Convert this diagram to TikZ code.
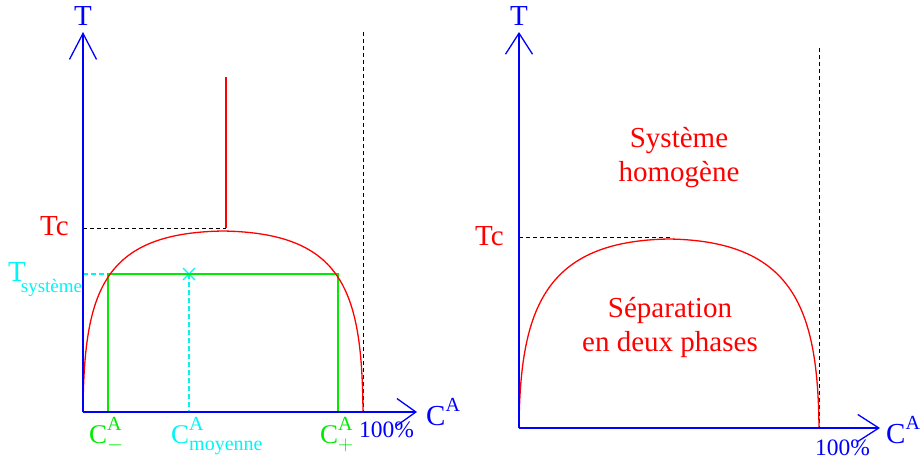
\documentclass[tikz,border=0pt]{standalone}
\usepackage{fontspec}
\setmainfont{Liberation Serif}
\usetikzlibrary{arrows.meta}
\definecolor{xred}{RGB}{255,0,0}
\definecolor{xblue}{RGB}{0,0,255}
\definecolor{xgreen}{RGB}{0,235,0}
\definecolor{xcyan}{RGB}{0,245,245}
\newcommand{\indice}{\fontsize{20}{24}\selectfont}
\newcommand{\conc}[1]{C\rlap{\raisebox{13pt}{\indice A}}\raisebox{-7pt}{\indice #1}}
\tikzset{
  axe/.style={xblue,line width=1.3pt},
  pointe/.style={-{Straight Barb[length=#1,width=27pt]}},
  courbe/.style={xred,line width=1.3pt},
  tirets/.style={black,line width=.9pt,dash pattern=on 4pt off 3pt},
  pointilles/.style={xcyan,line width=1.3pt,dash pattern=on 5pt off 3pt},
  grand/.style={font=\fontsize{29}{34}\selectfont,inner sep=0pt},
  moyen/.style={font=\fontsize{27}{32}\selectfont,inner sep=0pt},
  petit/.style={font=\fontsize{23.5}{28}\selectfont,inner sep=0pt},
}
\begin{document}
\begin{tikzpicture}[x=1pt,y=-1pt]
\useasboundingbox (0,0) rectangle (922,460);
% diagramme de gauche
\coordinate (O1) at (83,412); \coordinate (T1) at (83,32); \coordinate (X1) at (417,412);
\coordinate (M) at (189,274);
\draw[tirets] (363,32) -- (363,412);
\draw[tirets] (83,228) -- (226,228);
\draw[courbe] (226,228) -- (226,77);
\draw[pointilles] (83,274) -- (108,274);
\draw[pointilles] (M) -- (189,412);
\draw[xcyan,line width=1.2pt] (M) ++(-6,-6) -- ++(12,12) (M) ++(-6,6) -- ++(12,-12);
\draw[xgreen,line width=1.4pt] (108,412) -- (108,274) -- (338,274) -- (338,412);
\draw[courbe] (O1) .. controls (84,292) and (102,233) .. (223,231)
  .. controls (344,233) and (362,292) .. (363,412);
\draw[axe,pointe=26pt] (O1) -- (T1);
\draw[axe,pointe=19pt] (O1) -- (X1);
\node[grand,xblue] (t1) at (83,16) {T};
\node[grand,xred,anchor=base east] (tc1) at (69,235) {Tc};
\node[grand,xcyan,anchor=base west] (ts) at (8,281) {T\kern-5pt\raisebox{-11.5pt}{\fontsize{19}{23}\selectfont système}};
\node[moyen,xgreen,anchor=base west] (cm) at (89,443) {\conc{$-$}};
\node[moyen,xcyan,anchor=base west] (cmoy) at (171,443) {\conc{moyenne}};
\node[moyen,xgreen,anchor=base west] (cp) at (320,443) {\conc{$+$}};
\node[petit,xblue,anchor=base west] (p1) at (359,437) {100\%};
\node[grand,xblue,anchor=base west] (ca1) at (426,425) {C\raisebox{14pt}{\indice A}};
% diagramme de droite
\coordinate (O2) at (519,428); \coordinate (T2) at (519,32); \coordinate (X2) at (880,428);
\draw[tirets] (819,48) -- (819,428);
\draw[tirets] (519,237) -- (673,237);
\draw[courbe] (O2) .. controls (520,309) and (544.5,241) .. (669,239)
  .. controls (793.5,241) and (818,309) .. (819,428);
\draw[axe,pointe=21pt] (O2) -- (T2);
\draw[axe,pointe=21pt] (O2) -- (X2);
\node[grand,xblue] (t2) at (519,16) {T};
\node[grand,xred,anchor=base east] (tc2) at (504,245) {Tc};
\node[grand,xblue,anchor=base west] (ca2) at (886,443) {C\raisebox{14pt}{\indice A}};
\node[petit,xblue,anchor=base west] (p2) at (815,455) {100\%};
\node[grand,xred,align=center] (homo) at (679,158) {Système\\homogène};
\node[grand,xred,align=center] (sep) at (670,328) {Séparation\\en deux phases};
\end{tikzpicture}
\end{document}
